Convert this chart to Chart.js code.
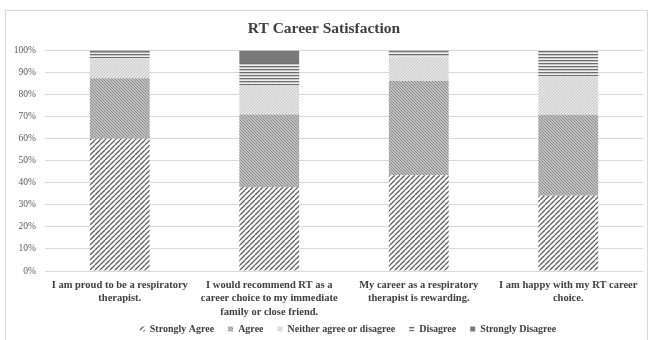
<!DOCTYPE html>
<html>
<head>
<meta charset="utf-8">
<script src="https://cdn.jsdelivr.net/npm/chart.js@4.4.1/dist/chart.umd.min.js"></script>
<style>
html,body{margin:0;padding:0;background:#fff;}
#wrap{position:relative;width:649px;height:340px;}
#frame{position:absolute;left:5px;top:10px;width:643px;height:335px;border:1px solid #d9d9d9;box-sizing:border-box;pointer-events:none;}
canvas{position:absolute;left:0;top:0;}
</style>
</head>
<body>
<div id="wrap"><canvas id="c" width="649" height="340"></canvas><div id="frame"></div></div>
<script>
const categories = [
  ["I am proud to be a respiratory", "therapist."],
  ["I would recommend RT as a", "career choice to my immediate", "family or close friend."],
  ["My career as a respiratory", "therapist is rewarding."],
  ["I am happy with my RT career", "choice."]
];
const seriesNames = ["Strongly Agree", "Agree", "Neither agree or disagree", "Disagree", "Strongly Disagree"];
const stronglyAgree = [60.0, 38.0, 43.4, 34.1];
const agree = [27.5, 33.0, 42.8, 36.8];
const neither = [9.0, 13.0, 11.1, 17.3];
const disagree = [2.5, 10.4, 2.0, 11.8];
const stronglyDisagree = [1.0, 5.6, 0.7, 0.0];
const yTicks = [0,10,20,30,40,50,60,70,80,90,100];

function diagPattern(size, bg, fg, lw, up) {
  const c = document.createElement('canvas');
  c.width = size; c.height = size;
  const x = c.getContext('2d');
  x.fillStyle = bg; x.fillRect(0,0,size,size);
  x.strokeStyle = fg; x.lineWidth = lw;
  x.beginPath();
  for (let k=-1;k<=1;k++){
    if (up){ x.moveTo(k*size, size); x.lineTo(k*size+size, 0); }
    else { x.moveTo(k*size, 0); x.lineTo(k*size+size, size); }
  }
  x.stroke();
  return x.createPattern(c,'repeat');
}
function horizPattern(period, bg, fg, lh) {
  const c = document.createElement('canvas');
  c.width = 4; c.height = period;
  const x = c.getContext('2d');
  x.fillStyle = bg; x.fillRect(0,0,4,period);
  x.fillStyle = fg; x.fillRect(0,0,4,lh);
  return x.createPattern(c,'repeat');
}

const fills = [
  diagPattern(5, '#ffffff', '#5e5e5e', 1.3, true),
  diagPattern(3, '#c0c0c0', '#8a8a8a', 1, false),
  diagPattern(3, '#e6e6e6', '#c6c6c6', 1, true),
  horizPattern(3, '#eeeeee', '#6e6e6e', 1.3),
  '#7a7a7a'
];
const seriesData = [stronglyAgree, agree, neither, disagree, stronglyDisagree];

const serif = "'Liberation Serif','Times New Roman',serif";

const shiftLegend = {
  id: 'shiftLegend',
  afterLayout(chart) {
    const l = chart.legend;
    if (l) { l.left += 24; l.right += 24; l.top -= 8; l.bottom -= 8; }
  }
};

new Chart(document.getElementById('c'), {
  type: 'bar',
  data: {
    labels: categories,
    datasets: seriesNames.map((n,i)=>({
      label: n,
      data: seriesData[i],
      backgroundColor: fills[i],
      borderWidth: 0,
      barPercentage: 0.4,
      categoryPercentage: 1.0
    }))
  },
  plugins: [shiftLegend],
  options: {
    responsive: false,
    animation: false,
    devicePixelRatio: 1,
    layout: { padding: { left: 5, right: 6, top: 0, bottom: -12 } },
    plugins: {
      title: {
        display: true,
        text: 'RT Career Satisfaction',
        color: '#404040',
        font: { family: serif, size: 15.5, weight: 'bold' },
        padding: { top: 20, bottom: 12 }
      },
      legend: {
        position: 'bottom',
        labels: {
          color: '#404040',
          font: { family: serif, size: 10, weight: 'bold' },
          boxWidth: 5,
          boxHeight: 5,
          padding: 14
        }
      },
      tooltip: { enabled: false }
    },
    scales: {
      x: {
        stacked: true,
        afterFit: s => { s.height = 47; },
        grid: { display: false, drawTicks: false },
        border: { display: false },
        ticks: {
          color: '#404040',
          font: { family: serif, size: 10.5, weight: 'bold', lineHeight: 1.25 },
          padding: 8,
          maxRotation: 0,
          autoSkip: false
        }
      },
      y: {
        stacked: true,
        min: 0, max: 100,
        afterFit: s => { s.width = 40; },
        afterBuildTicks: s => { s.ticks = yTicks.map(v=>({value:v})); },
        grid: { color: '#d9d9d9', drawTicks: false, lineWidth: 1 },
        border: { display: false },
        ticks: {
          color: '#595959',
          font: { family: serif, size: 9.5 },
          padding: 9,
          callback: v => v + '%'
        }
      }
    }
  }
});
</script>
</body>
</html>
